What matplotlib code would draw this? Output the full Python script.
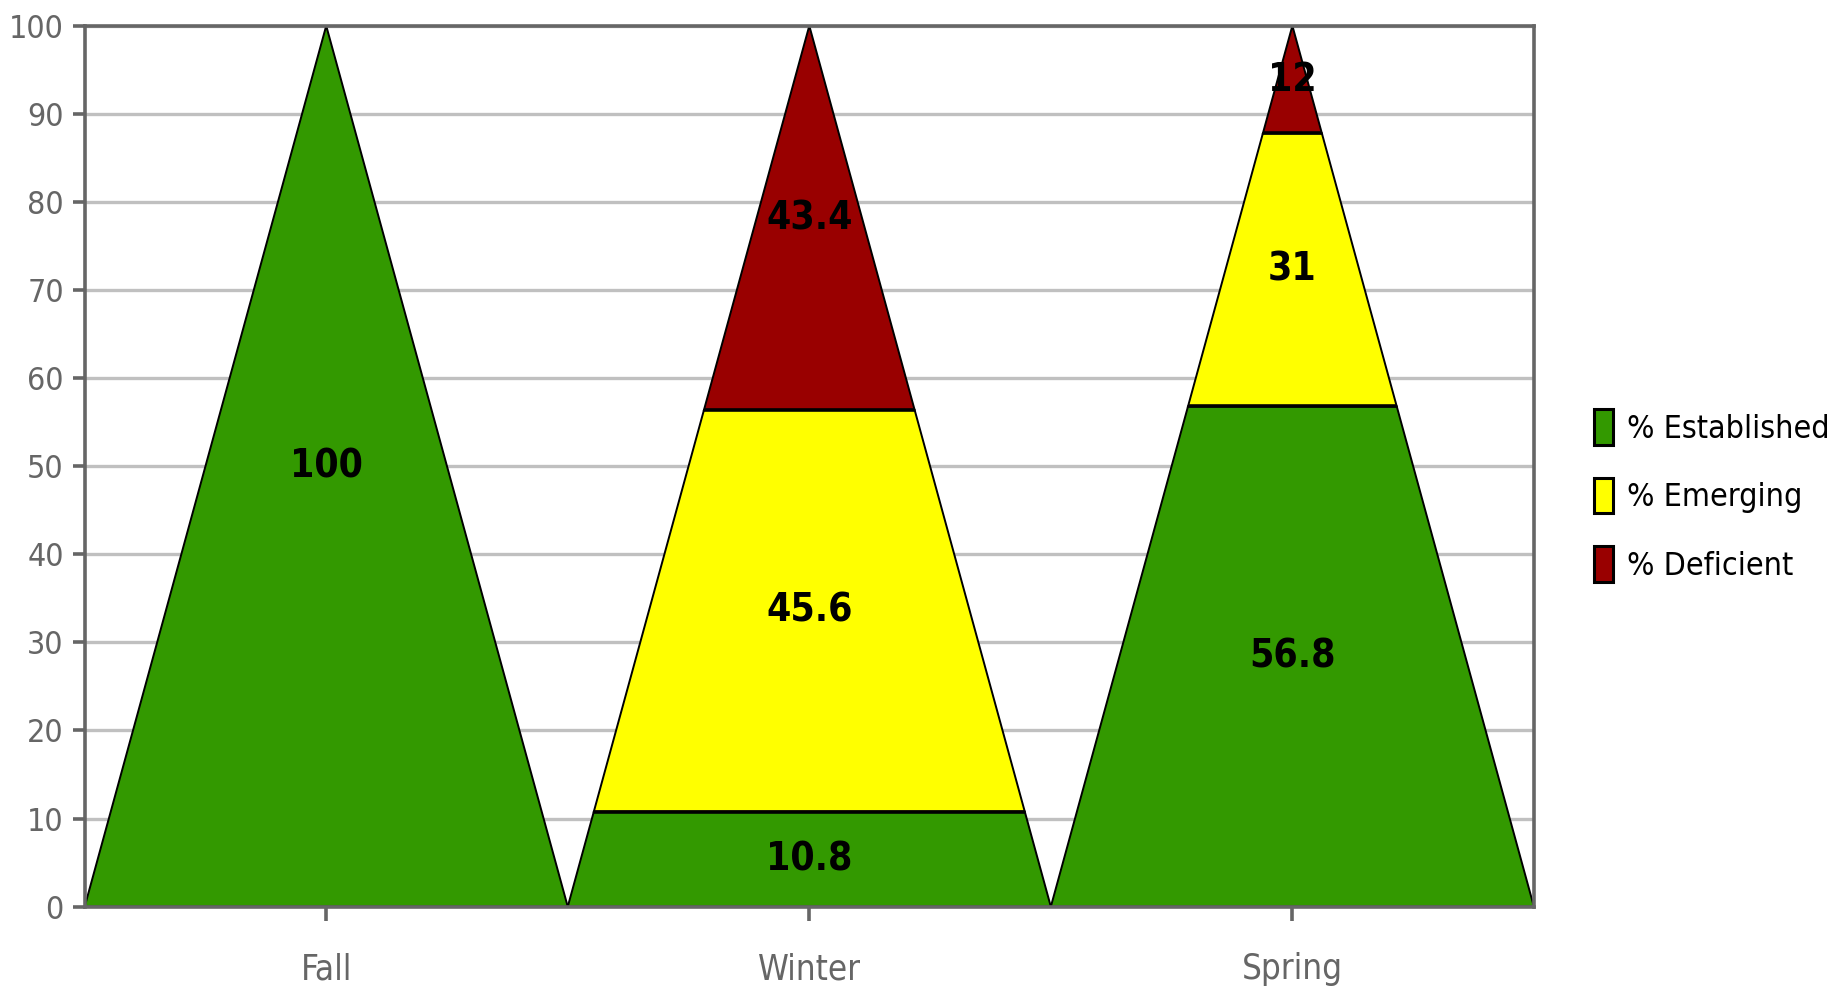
import matplotlib
matplotlib.use("Agg")
import matplotlib.pyplot as plt
from matplotlib.patches import Polygon, Rectangle

# Seasons and the share of students at each level (percent)
seasons = ["Fall", "Winter", "Spring"]
levels = ["% Established", "% Emerging", "% Deficient"]
established = [100, 10.8, 56.8]
emerging = [0, 45.6, 31]
deficient = [0, 43.4, 12]
colors = ["#339900", "#ffff00", "#990000"]
yticks = list(range(0, 101, 10))

plt.rcParams["font.family"] = ["DejaVu Sans"]
plt.rcParams["font.stretch"] = "condensed"

fig = plt.figure(figsize=(18.41, 9.91), dpi=100)
ax = fig.add_axes([0.0460, 0.0851, 0.7872, 0.8889])
ax.set_xlim(-0.5, len(seasons) - 0.5)
ax.set_ylim(0, 100)

GRID = "#c0c0c0"
AXIS = "#666666"
ax.set_yticks(yticks)
ax.yaxis.grid(True, color=GRID, linewidth=2.4, zorder=0)
ax.set_axisbelow(True)
for s in ax.spines.values():
    s.set_color(AXIS)
    s.set_linewidth(2.6)
    s.set_zorder(5)

ax.set_xticks(range(len(seasons)))
ax.set_xticklabels(seasons)
ax.tick_params(axis="y", colors=AXIS, labelcolor=AXIS, length=9, width=2.6,
               labelsize=23, pad=6)
ax.tick_params(axis="x", colors=AXIS, labelcolor=AXIS, length=10, width=2.6,
               labelsize=25, pad=23)
for lab in ax.get_xticklabels() + ax.get_yticklabels():
    lab.set_fontstretch("condensed")

half = 0.5  # half-width of each pyramid base in category units
top = 100.0  # apex height of each pyramid


def width_at(y):
    return half * (1 - y / top)


series = [established, emerging, deficient]
for i in range(len(seasons)):
    lo = 0.0
    bounds = []
    for vals, col in zip(series, colors):
        v = vals[i]
        if v <= 0:
            continue
        hi = min(lo + v, top)
        wl, wh = width_at(lo), width_at(hi)
        poly = Polygon([(i - wl, lo), (i + wl, lo), (i + wh, hi), (i - wh, hi)],
                       closed=True, facecolor=col, edgecolor="black",
                       linewidth=1.4, zorder=3)
        ax.add_patch(poly)
        ax.text(i, (lo + hi) / 2, f"{v:g}", ha="center", va="center",
                fontsize=28, fontweight="bold", fontstretch="condensed",
                color="black", zorder=6)
        if lo > 0:
            bounds.append(lo)
        lo = hi
    # separators between stacked levels
    for b in bounds:
        w = width_at(b)
        ax.plot([i - w, i + w], [b, b], color="black", linewidth=2.6,
                zorder=4, solid_capstyle="butt")

handles = [Rectangle((0, 0), 1, 1, facecolor=c, edgecolor="black", linewidth=2.2)
           for c in colors]
leg = fig.legend(handles, levels, loc="center left", bbox_to_anchor=(0.866, 0.5),
                 frameon=False, fontsize=23, handlelength=0.57, handleheight=1.35,
                 handletextpad=0.45, labelspacing=1.02, borderaxespad=0,
                 borderpad=0)
for t in leg.get_texts():
    t.set_fontstretch("condensed")

fig.savefig("out.png", dpi=100, facecolor="white")
